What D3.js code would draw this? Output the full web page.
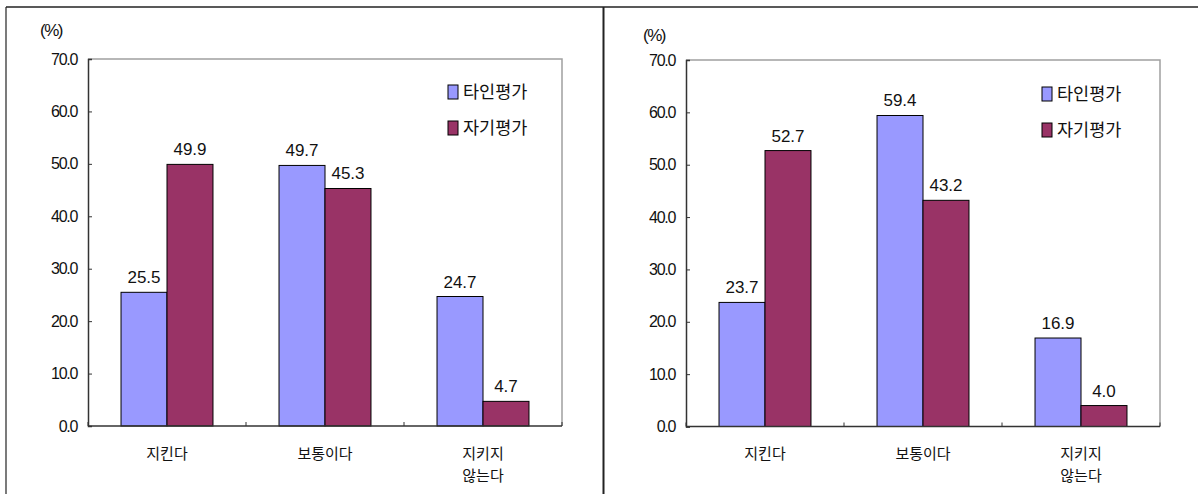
<!DOCTYPE html>
<html><head><meta charset="utf-8">
<script src="https://cdn.jsdelivr.net/npm/d3@7"></script>
<style>body{margin:0;background:#fff}svg{display:block}</style>
</head><body>
<svg id="c" width="1198" height="494"></svg>
<script>
const categories = [["지킨다"], ["보통이다"], ["지키지", "않는다"]];
const seriesNames = ["타인평가", "자기평가"];
const leftOther = [25.5, 49.7, 24.7];
const leftSelf = [49.9, 45.3, 4.7];
const rightOther = [23.7, 59.4, 16.9];
const rightSelf = [52.7, 43.2, 4.0];
const yTicks = [0, 10, 20, 30, 40, 50, 60, 70];
const colors = ["#9999FF", "#993366"];

const svg = d3.select("#c");
const KR = "'Noto Sans CJK KR', 'Noto Sans', sans-serif";
const NUM = "'Liberation Sans', Arial, sans-serif";

// outer frame
svg.append("line").attr("x1", 6).attr("x2", 1198).attr("y1", 7).attr("y2", 7).attr("stroke", "#222").attr("stroke-width", 1.5);
svg.append("line").attr("x1", 6).attr("x2", 6).attr("y1", 7).attr("y2", 494).attr("stroke", "#222").attr("stroke-width", 1.2);
svg.append("line").attr("x1", 603.5).attr("x2", 603.5).attr("y1", 7).attr("y2", 494).attr("stroke", "#222").attr("stroke-width", 2);

function drawChart(cfg) {
  const g = svg.append("g");
  const {left, right, top, bottom} = cfg;
  const y = d3.scaleLinear().domain([0, 70]).range([bottom, top]);
  const x0 = d3.scaleBand().domain(d3.range(categories.length)).range([left, right]);
  const pad = x0.bandwidth() * 0.209;
  const x1 = d3.scaleBand().domain(d3.range(seriesNames.length)).range([pad, x0.bandwidth() - pad]);

  g.append("path").attr("d", `M${left},${top}H${right}V${bottom}`).attr("fill", "none").attr("stroke", "#a0a0a0").attr("stroke-width", 1.5);

  const vals = [cfg.other, cfg.self];
  vals.forEach((arr, si) => {
    g.selectAll(null).data(arr).enter().append("rect")
      .attr("x", (d, i) => x0(i) + x1(si))
      .attr("y", d => y(d))
      .attr("width", x1.bandwidth())
      .attr("height", d => bottom - y(d))
      .attr("fill", colors[si]).attr("stroke", "#000").attr("stroke-width", 1);
    g.selectAll(null).data(arr).enter().append("text")
      .attr("x", (d, i) => x0(i) + x1(si) + x1.bandwidth() / 2)
      .attr("y", d => y(d) - 9)
      .attr("text-anchor", "middle")
      .attr("font-family", NUM).attr("font-size", 17).attr("fill", "#111")
      .text(d => d.toFixed(1));
  });

  const ya = d3.axisLeft(y).tickValues(yTicks).tickSize(-4).tickPadding(11).tickFormat(d => d.toFixed(1));
  const yg = g.append("g").attr("transform", `translate(${left},0)`).call(ya);
  yg.select(".domain").attr("stroke", "#333").attr("stroke-width", 1.5);
  yg.selectAll(".tick line").attr("stroke", "#333");
  yg.selectAll("text").attr("font-family", NUM).attr("font-size", 16).attr("letter-spacing", "-1.3px").attr("fill", "#111");

  g.append("line").attr("x1", left).attr("x2", right).attr("y1", bottom).attr("y2", bottom).attr("stroke", "#333").attr("stroke-width", 1.5);
  const bounds = d3.range(categories.length + 1).map(i => i < categories.length ? x0(i) : right);
  g.selectAll(null).data(bounds).enter().append("line")
    .attr("x1", d => d).attr("x2", d => d).attr("y1", bottom).attr("y2", bottom - 4)
    .attr("stroke", "#333");
  categories.forEach((lines, i) => {
    const t = g.append("text").attr("x", x0(i) + x0.bandwidth() / 2).attr("y", 459)
      .attr("text-anchor", "middle").attr("font-family", KR).attr("font-size", 15).attr("fill", "#111");
    lines.forEach((ln, j) => t.append("tspan").attr("x", x0(i) + x0.bandwidth() / 2).attr("dy", j === 0 ? 0 : 22).text(ln));
  });

  g.append("text").attr("x", cfg.unitX).attr("y", cfg.unitY).attr("font-family", NUM).attr("font-size", 17).attr("letter-spacing", "-1.5px").attr("fill", "#111").text("(%)");

  seriesNames.forEach((n, i) => {
    const ly = cfg.legY + i * 36;
    g.append("rect").attr("x", cfg.legX).attr("y", ly - 7).attr("width", 10).attr("height", 14)
      .attr("fill", colors[i]).attr("stroke", "#000").attr("stroke-width", 1);
    g.append("text").attr("x", cfg.legX + 15).attr("y", ly).attr("dy", "0.36em")
      .attr("font-family", KR).attr("font-size", 17.5).attr("fill", "#111").text(n);
  });
}

drawChart({left: 88, right: 562, top: 59, bottom: 426, other: leftOther, self: leftSelf, unitX: 40, unitY: 36, legX: 448, legY: 92});
drawChart({left: 686, right: 1160, top: 60, bottom: 426.5, other: rightOther, self: rightSelf, unitX: 643, unitY: 41, legX: 1042, legY: 94});
</script>
</body></html>
